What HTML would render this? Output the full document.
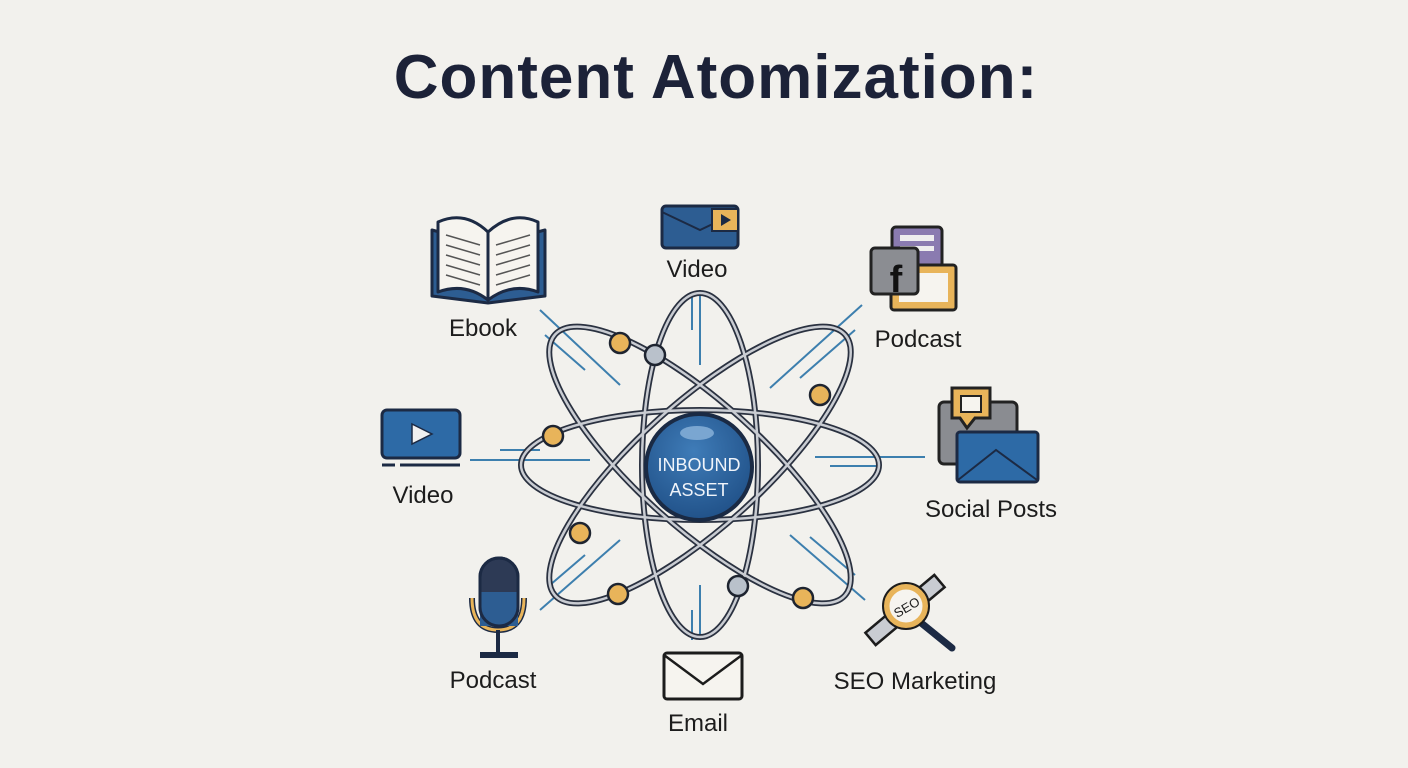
<!DOCTYPE html>
<html><head><style>
html,body{margin:0;padding:0;background:#f2f1ed;}
svg{display:block}
text{font-family:"Liberation Sans",sans-serif;}
</style></head><body>
<svg width="1408" height="768" viewBox="0 0 1408 768" xmlns="http://www.w3.org/2000/svg">
<rect width="1408" height="768" fill="#f2f1ed"/>
<text x="716" y="98" text-anchor="middle" font-size="62" font-weight="bold" letter-spacing="1" fill="#1c2238">Content Atomization:</text>

<g stroke="#3d7fae" stroke-width="2" fill="none">
<line x1="540" y1="310" x2="620" y2="385"/><line x1="545" y1="335" x2="585" y2="370"/>
<line x1="700" y1="290" x2="700" y2="365"/><line x1="692" y1="295" x2="692" y2="330"/>
<line x1="862" y1="305" x2="770" y2="388"/><line x1="855" y1="330" x2="800" y2="378"/>
<line x1="470" y1="460" x2="590" y2="460"/><line x1="500" y1="450" x2="540" y2="450"/>
<line x1="815" y1="457" x2="925" y2="457"/><line x1="830" y1="466" x2="880" y2="466"/>
<line x1="540" y1="610" x2="620" y2="540"/><line x1="550" y1="585" x2="585" y2="555"/>
<line x1="700" y1="585" x2="700" y2="640"/><line x1="692" y1="610" x2="692" y2="640"/>
<line x1="865" y1="600" x2="790" y2="535"/><line x1="855" y1="575" x2="810" y2="537"/>
</g>

<g fill="none">
<g stroke="#2a3140" stroke-width="6">
<ellipse cx="700" cy="465" rx="179" ry="55"/>
<ellipse cx="700" cy="465" rx="58" ry="172"/>
<ellipse cx="700" cy="465" rx="195" ry="62" transform="rotate(42 700 465)"/>
<ellipse cx="700" cy="465" rx="195" ry="62" transform="rotate(-42 700 465)"/>
</g>
<g stroke="#c9ccd2" stroke-width="2.5">
<ellipse cx="700" cy="465" rx="179" ry="55"/>
<ellipse cx="700" cy="465" rx="58" ry="172"/>
<ellipse cx="700" cy="465" rx="195" ry="62" transform="rotate(42 700 465)"/>
<ellipse cx="700" cy="465" rx="195" ry="62" transform="rotate(-42 700 465)"/>
</g>
</g>

<defs><radialGradient id="g" cx="0.45" cy="0.35" r="0.7"><stop offset="0" stop-color="#3f7cb8"/><stop offset="1" stop-color="#1f4f86"/></radialGradient></defs>
<circle cx="699" cy="467" r="53" fill="url(#g)" stroke="#1a2a44" stroke-width="4"/>
<ellipse cx="697" cy="433" rx="17" ry="7" fill="#7aa6d1"/>
<text x="699" y="471" text-anchor="middle" font-size="18" fill="#f0f4fa">INBOUND</text>
<text x="699" y="496" text-anchor="middle" font-size="18" fill="#f0f4fa">ASSET</text>

<g stroke="#1e2430" stroke-width="2.5">
<circle cx="620" cy="343" r="10" fill="#e8b45a"/>
<circle cx="820" cy="395" r="10" fill="#e8b45a"/>
<circle cx="553" cy="436" r="10" fill="#e8b45a"/>
<circle cx="580" cy="533" r="10" fill="#e8b45a"/>
<circle cx="618" cy="594" r="10" fill="#e8b45a"/>
<circle cx="803" cy="598" r="10" fill="#e8b45a"/>
<circle cx="655" cy="355" r="10" fill="#b9c1cb"/>
<circle cx="738" cy="586" r="10" fill="#b9c1cb"/>
</g>

<g stroke="#1c2a44" stroke-width="3" stroke-linejoin="round">
<path d="M432 230 L488 245 L545 230 L545 296 L488 303 L432 296 Z" fill="#2d5d92"/>
<path d="M438 222 Q465 210 488 232 L488 300 Q465 282 438 292 Z" fill="#f6f4ef"/>
<path d="M538 222 Q512 210 488 232 L488 300 Q512 282 538 292 Z" fill="#f6f4ef"/>
</g>
<g stroke="#555" stroke-width="1.5">
<line x1="446" y1="235" x2="480" y2="245"/><line x1="446" y1="245" x2="480" y2="255"/><line x1="446" y1="255" x2="480" y2="265"/><line x1="446" y1="265" x2="480" y2="275"/><line x1="446" y1="275" x2="480" y2="285"/>
<line x1="496" y1="245" x2="530" y2="235"/><line x1="496" y1="255" x2="530" y2="245"/><line x1="496" y1="265" x2="530" y2="255"/><line x1="496" y1="275" x2="530" y2="265"/><line x1="496" y1="285" x2="530" y2="275"/>
</g>
<text x="483" y="336" text-anchor="middle" font-size="24" fill="#1c1c1c">Ebook</text>

<rect x="662" y="206" width="76" height="42" rx="4" fill="#2d5d92" stroke="#1c2a44" stroke-width="3"/>
<path d="M662 212 L700 230 L738 212" fill="none" stroke="#1c2a44" stroke-width="2"/>
<rect x="712" y="209" width="26" height="22" fill="#e8b45a" stroke="#1c2a44" stroke-width="2"/>
<path d="M721 214 L731 220 L721 226 Z" fill="#1c2a44"/>
<text x="697" y="277" text-anchor="middle" font-size="24" fill="#1c1c1c">Video</text>

<rect x="892" y="227" width="50" height="40" rx="4" fill="#8a7bb0" stroke="#222" stroke-width="3"/>
<rect x="900" y="235" width="34" height="6" fill="#eee"/><rect x="900" y="246" width="34" height="5" fill="#eee"/>
<rect x="891" y="265" width="65" height="45" rx="3" fill="#e8b45a" stroke="#222" stroke-width="3"/>
<rect x="899" y="273" width="49" height="29" fill="#f6f4ef"/>
<rect x="871" y="248" width="47" height="46" rx="4" fill="#8b8d92" stroke="#222" stroke-width="3"/>
<text x="896" y="292" text-anchor="middle" font-size="38" font-weight="bold" fill="#111">f</text>
<text x="918" y="347" text-anchor="middle" font-size="24" fill="#1c1c1c">Podcast</text>

<rect x="382" y="410" width="78" height="48" rx="5" fill="#2d6aa6" stroke="#1c2a44" stroke-width="3"/>
<path d="M412 424 L432 434 L412 444 Z" fill="#f0f0f0" stroke="#1c2a44" stroke-width="1.5"/>
<line x1="382" y1="465" x2="395" y2="465" stroke="#1c2a44" stroke-width="3"/>
<line x1="400" y1="465" x2="460" y2="465" stroke="#1c2a44" stroke-width="3"/>
<text x="423" y="503" text-anchor="middle" font-size="24" fill="#1c1c1c">Video</text>

<rect x="939" y="402" width="78" height="62" rx="5" fill="#8a8c91" stroke="#222" stroke-width="3"/>
<path d="M952 388 L990 388 L990 418 L975 418 L967 428 L960 418 L952 418 Z" fill="#e8b45a" stroke="#222" stroke-width="3"/>
<rect x="961" y="396" width="20" height="16" fill="#f6f4ef" stroke="#222" stroke-width="2"/>
<rect x="957" y="432" width="81" height="50" rx="3" fill="#2d6aa6" stroke="#1c2a44" stroke-width="3"/>
<path d="M958 480 L996 450 L1037 480" fill="none" stroke="#1c2a44" stroke-width="2"/>
<text x="991" y="517" text-anchor="middle" font-size="24" fill="#1c1c1c">Social Posts</text>

<path d="M472 598 Q472 630 498 630 Q524 630 524 598" fill="none" stroke="#1c2a44" stroke-width="6"/>
<path d="M472 598 Q472 630 498 630 Q524 630 524 598" fill="none" stroke="#e8b45a" stroke-width="3"/>
<rect x="480" y="558" width="38" height="68" rx="19" fill="#2d3a55" stroke="#1c2a44" stroke-width="3"/>
<rect x="480" y="592" width="38" height="34" fill="#2d5d92"/>
<rect x="480" y="558" width="38" height="68" rx="19" fill="none" stroke="#1c2a44" stroke-width="3"/>
<line x1="498" y1="630" x2="498" y2="652" stroke="#1c2a44" stroke-width="4"/>
<rect x="480" y="652" width="38" height="6" fill="#1c2a44"/>
<text x="493" y="688" text-anchor="middle" font-size="24" fill="#1c1c1c">Podcast</text>

<rect x="664" y="653" width="78" height="46" rx="3" fill="#f6f4ef" stroke="#1c1c1c" stroke-width="3"/>
<path d="M664 655 L703 684 L742 655" fill="none" stroke="#1c1c1c" stroke-width="2.5"/>
<text x="698" y="731" text-anchor="middle" font-size="24" fill="#1c1c1c">Email</text>

<g transform="rotate(-40 905 610)">
<rect x="860" y="602" width="90" height="16" fill="#c9ccd2" stroke="#1c1c1c" stroke-width="2.5"/>
</g>
<line x1="920" y1="622" x2="952" y2="648" stroke="#1c2a44" stroke-width="7" stroke-linecap="round"/>
<circle cx="906" cy="606" r="20" fill="#f6f4ef" stroke="#e8b45a" stroke-width="7"/>
<circle cx="906" cy="606" r="23" fill="none" stroke="#1c1c1c" stroke-width="2"/>
<text x="906" y="612" text-anchor="middle" font-size="13" fill="#1c1c1c" transform="rotate(-30 906 606)">SEO</text>
<text x="915" y="689" text-anchor="middle" font-size="24" fill="#1c1c1c">SEO Marketing</text>
</svg>
</body></html>
